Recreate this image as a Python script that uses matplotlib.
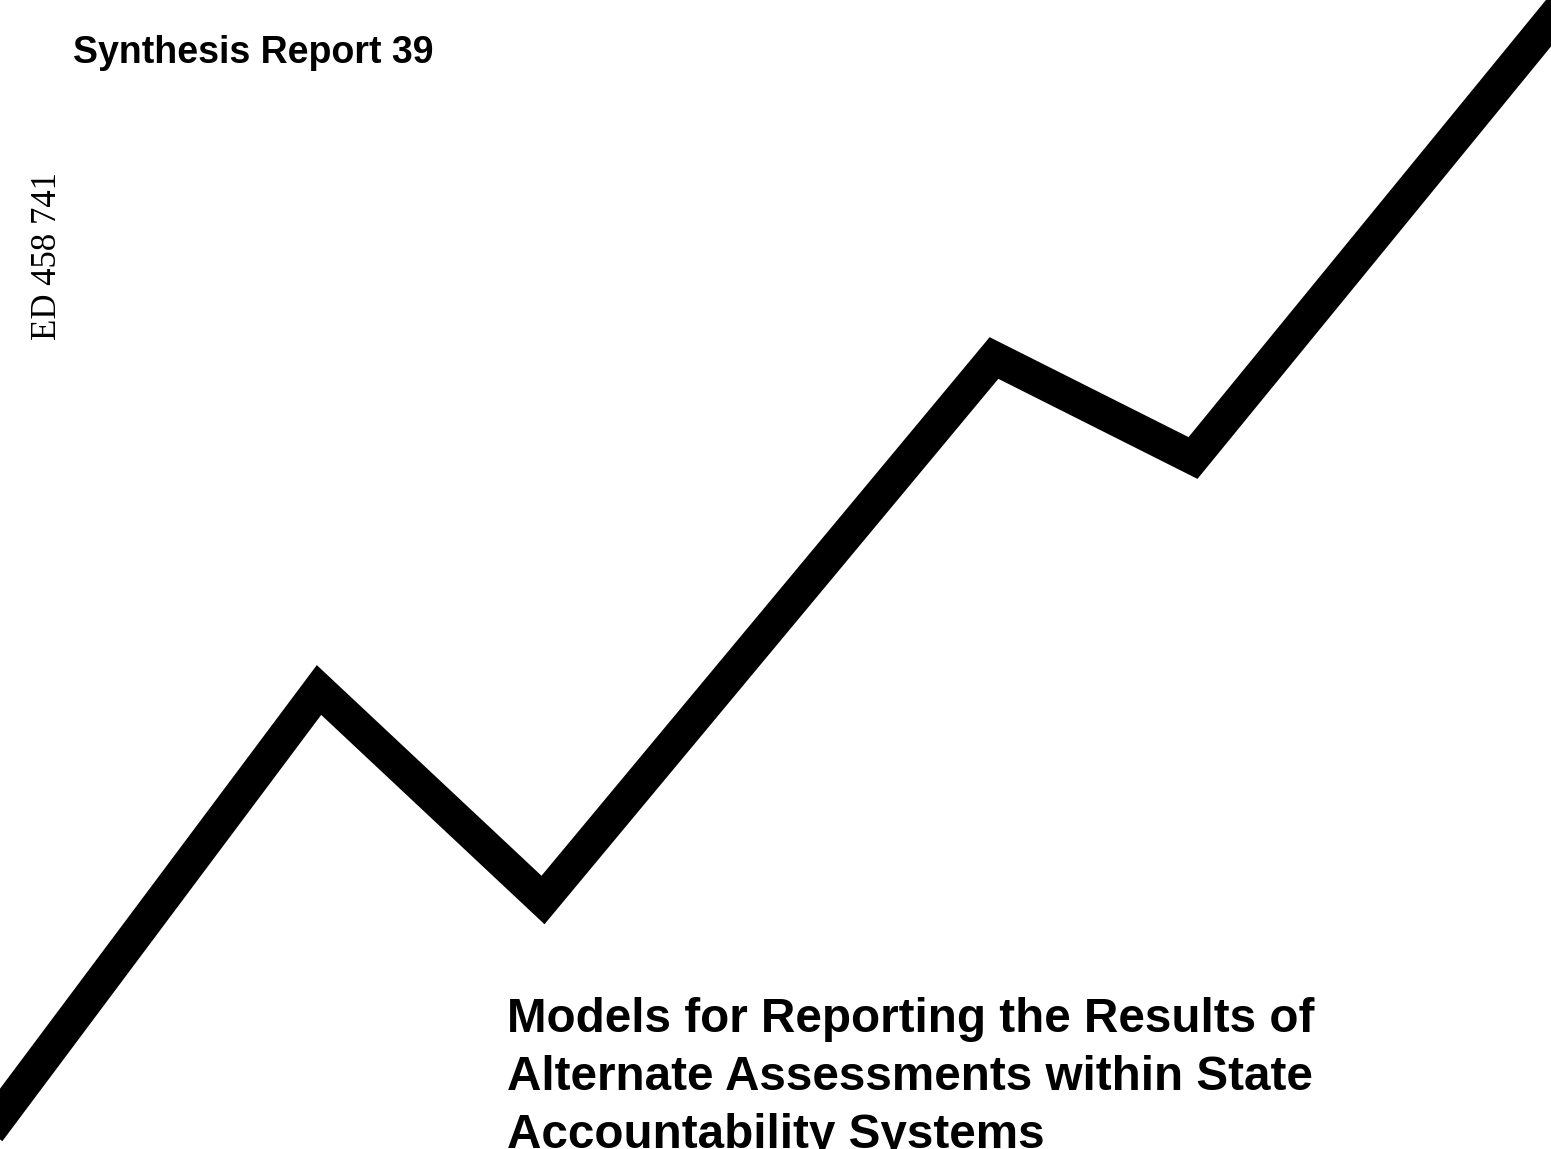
import matplotlib
matplotlib.use("Agg")
import matplotlib.pyplot as plt

# zigzag trend line (page pixel coords, y down)
line_x = [-40, 319, 543, 994, 1193, 1592]
line_y = [1170, 690, 900, 358, 458, -30]

report_label = "Synthesis Report 39"
side_code = "ED 458 741"
title_lines = ["Models for Reporting the Results of",
               "Alternate Assessments within State",
               "Accountability Systems"]

fig = plt.figure(figsize=(15.51, 11.49), dpi=100)
ax = fig.add_axes([0, 0, 1, 1])
ax.set_xlim(0, 1551)
ax.set_ylim(1149, 0)
ax.axis("off")

# agg clips the stroke at the canvas edge, projecting caps hide the cut
ax.plot(line_x, line_y, color="black", linewidth=24, solid_joinstyle="miter",
        solid_capstyle="projecting", clip_on=False)

ax.text(73, 63, report_label, fontsize=27, fontweight="bold",
        family="Liberation Sans", va="baseline", ha="left")
ax.text(64, 340, side_code, fontsize=25, family="Liberation Serif",
        rotation=90, va="bottom", ha="left", rotation_mode="anchor")

for i, t in enumerate(title_lines):
    ax.text(507, 1032 + i * 58, t, fontsize=34.3, fontweight="bold",
            family="Liberation Sans", va="baseline", ha="left")

fig.savefig("out.png", dpi=100)
